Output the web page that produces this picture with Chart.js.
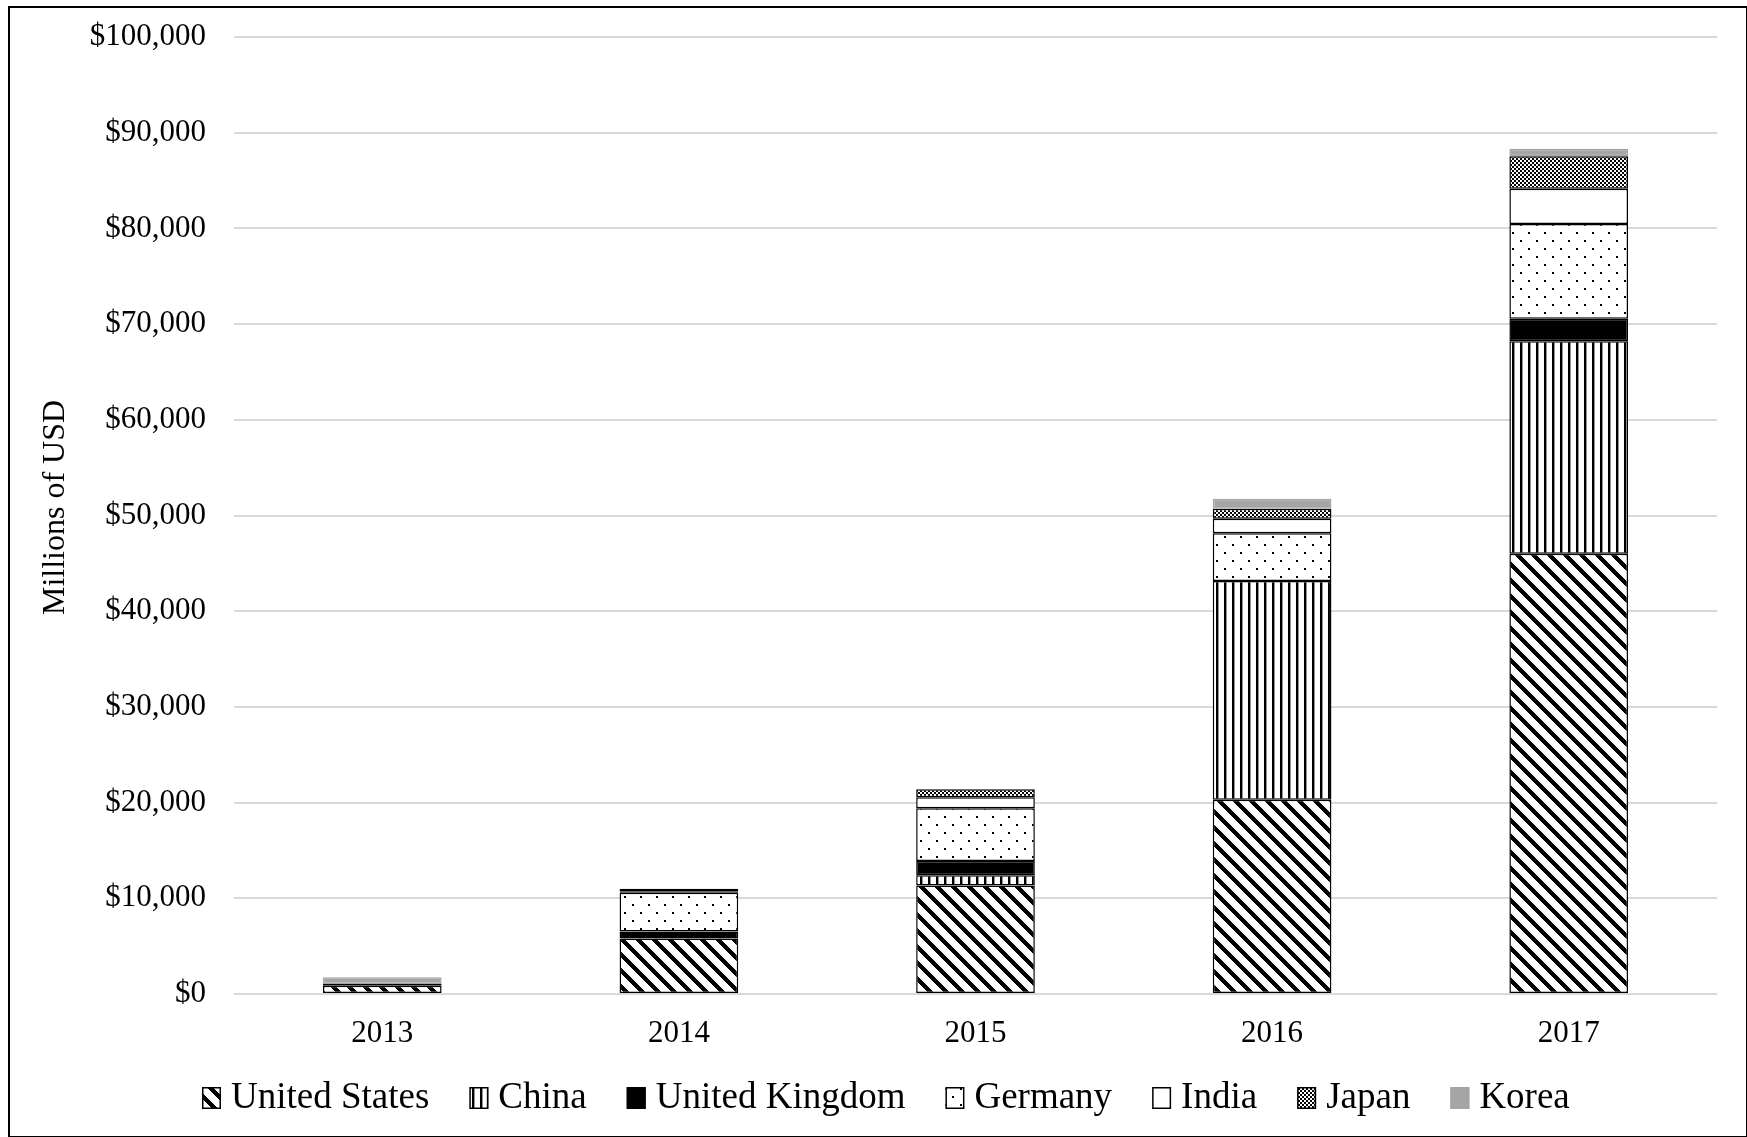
<!DOCTYPE html>
<html>
<head>
<meta charset="utf-8">
<title>Investment by country, 2013–2017</title>
<script src="https://cdn.jsdelivr.net/npm/chart.js@4.4.0/dist/chart.umd.min.js"></script>
<style>
  html, body { margin: 0; padding: 0; background: #fff; }
  #wrap { position: relative; width: 1747px; height: 1137px; overflow: hidden; }
  canvas { display: block; }
  #frame { position: absolute; left: 8px; top: 6px; right: 0; bottom: 0;
           border: 2px solid #000; border-right-width: 1px; border-bottom-width: 1px;
           pointer-events: none; }
</style>
</head>
<body>
<div id="wrap">
  <canvas id="chart" width="1747" height="1137"></canvas>
  <div id="frame"></div>
</div>
<script>
// Categories and series (millions of USD)
const years = ['2013', '2014', '2015', '2016', '2017'];
const unitedStates   = [850, 5800, 11350, 20300, 46000];
const china          = [0, 0, 1050, 22850, 22200];
const unitedKingdom  = [0, 730, 1500, 0, 2350];
const germany        = [200, 4050, 5500, 5000, 9900];
const india          = [0, 150, 1150, 1500, 3700];
const japan          = [0, 270, 850, 1050, 3400];
const korea          = [700, 0, 0, 1050, 770];

const yTickMax = 100000;
const yTickStep = 10000;
const axisTitle = 'Millions of USD';

const FONT = "'Liberation Serif', 'Times New Roman', serif";

// Build a repeating bitmap fill from a per-pixel grey function
function bitmapPattern(w, h, shade) {
  const c = document.createElement('canvas');
  c.width = w; c.height = h;
  const g = c.getContext('2d');
  const img = g.createImageData(w, h);
  for (let y = 0; y < h; y++) {
    for (let x = 0; x < w; x++) {
      const v = shade(x, y);
      const i = (y * w + x) * 4;
      img.data[i] = img.data[i + 1] = img.data[i + 2] = v;
      img.data[i + 3] = 255;
    }
  }
  g.putImageData(img, 0, 0);
  return g.createPattern(c, 'repeat');
}

const wideDownDiagonal = bitmapPattern(16, 16, (x, y) => ((x - y + 32) % 16) < 6 ? 0 : 255);
const verticalLines    = bitmapPattern(8, 1, (x) => x < 2 ? 0 : (x === 2 ? 150 : 255));
const sparseDots       = bitmapPattern(16, 16, (x, y) =>
  ((x % 16 < 2 && y % 16 < 2) || ((x + 8) % 16 < 2 && (y + 8) % 16 < 2)) ? 0 : 255);
const smallChecker     = bitmapPattern(4, 4, (x, y) =>
  ((Math.floor(x / 2) + Math.floor(y / 2)) % 2) ? 0 : 255);

function series(label, data, fill, stroke) {
  return {
    label, data,
    backgroundColor: fill,
    borderColor: stroke,
    borderWidth: 1.5,
    borderSkipped: false
  };
}

// Legend row under the axis and the rotated y-axis title, drawn on the chart canvas
const legendRow = {
  id: 'legendRow',
  afterDraw(chart, args, opts) {
    const ctx = chart.ctx;
    const area = chart.chartArea;
    ctx.save();
    ctx.fillStyle = '#000';
    ctx.textAlign = 'center';
    ctx.textBaseline = 'middle';
    ctx.font = `${opts.titleSize}px ${FONT}`;
    ctx.translate(opts.titleX, (area.top + area.bottom) / 2 + opts.titleShift);
    ctx.rotate(-Math.PI / 2);
    ctx.fillText(axisTitle, 0, 0);
    ctx.restore();

    ctx.save();
    ctx.font = `${opts.fontSize}px ${FONT}`;
    ctx.textAlign = 'left';
    ctx.textBaseline = 'middle';
    let x = opts.startX;
    const cy = opts.centerY;
    chart.data.datasets.forEach((ds) => {
      const bx = x, by = Math.round(cy - opts.boxH / 2);
      ctx.fillStyle = ds.backgroundColor;
      ctx.fillRect(bx, by, opts.boxW, opts.boxH);
      ctx.strokeStyle = ds.borderColor;
      ctx.lineWidth = 1.5;
      ctx.strokeRect(bx + 0.75, by + 0.75, opts.boxW - 1.5, opts.boxH - 1.5);
      ctx.fillStyle = '#000';
      const tx = bx + opts.boxW + opts.boxGap;
      ctx.fillText(ds.label, tx, cy);
      x = tx + ctx.measureText(ds.label).width + opts.itemGap;
    });
    ctx.restore();
  }
};

Chart.defaults.color = '#000';
Chart.defaults.font.family = FONT;

new Chart(document.getElementById('chart'), {
  type: 'bar',
  data: {
    labels: years,
    datasets: [
      series('United States', unitedStates, wideDownDiagonal, '#000'),
      series('China', china, verticalLines, '#000'),
      series('United Kingdom', unitedKingdom, '#000', '#000'),
      series('Germany', germany, sparseDots, '#000'),
      series('India', india, '#fff', '#000'),
      series('Japan', japan, smallChecker, '#000'),
      series('Korea', korea, '#a5a5a5', '#a5a5a5')
    ]
  },
  plugins: [legendRow],
  options: {
    responsive: false,
    animation: false,
    devicePixelRatio: 1,
    datasets: { bar: { categoryPercentage: 1.0, barPercentage: 0.4 } },
    layout: { padding: { top: 37, right: 30, bottom: 83, left: 0 } },
    plugins: {
      tooltip: { enabled: false },
      legend: { display: false },
      legendRow: {
        titleSize: 32, titleX: 56, titleShift: -8,
        fontSize: 37, startX: 202, centerY: 1098,
        boxW: 19, boxH: 22, boxGap: 10, itemGap: 40
      }
    },
    scales: {
      x: {
        stacked: true,
        grid: { display: false, drawTicks: false },
        border: { display: false },
        ticks: { padding: 21, font: { family: FONT, size: 31 }, color: '#000' },
        afterFit: (s) => { s.height = 60; }
      },
      y: {
        stacked: true,
        min: 0,
        max: yTickMax,
        grid: { color: '#d9d9d9', lineWidth: 2, drawTicks: true, tickLength: 28, tickColor: 'transparent' },
        border: { display: false },
        ticks: {
          stepSize: yTickStep,
          padding: 0,
          font: { family: FONT, size: 31 },
          color: '#000',
          callback: (v) => '$' + Number(v).toLocaleString('en-US')
        },
        afterFit: (s) => { s.width = 234; }
      }
    }
  }
});
</script>
</body>
</html>
